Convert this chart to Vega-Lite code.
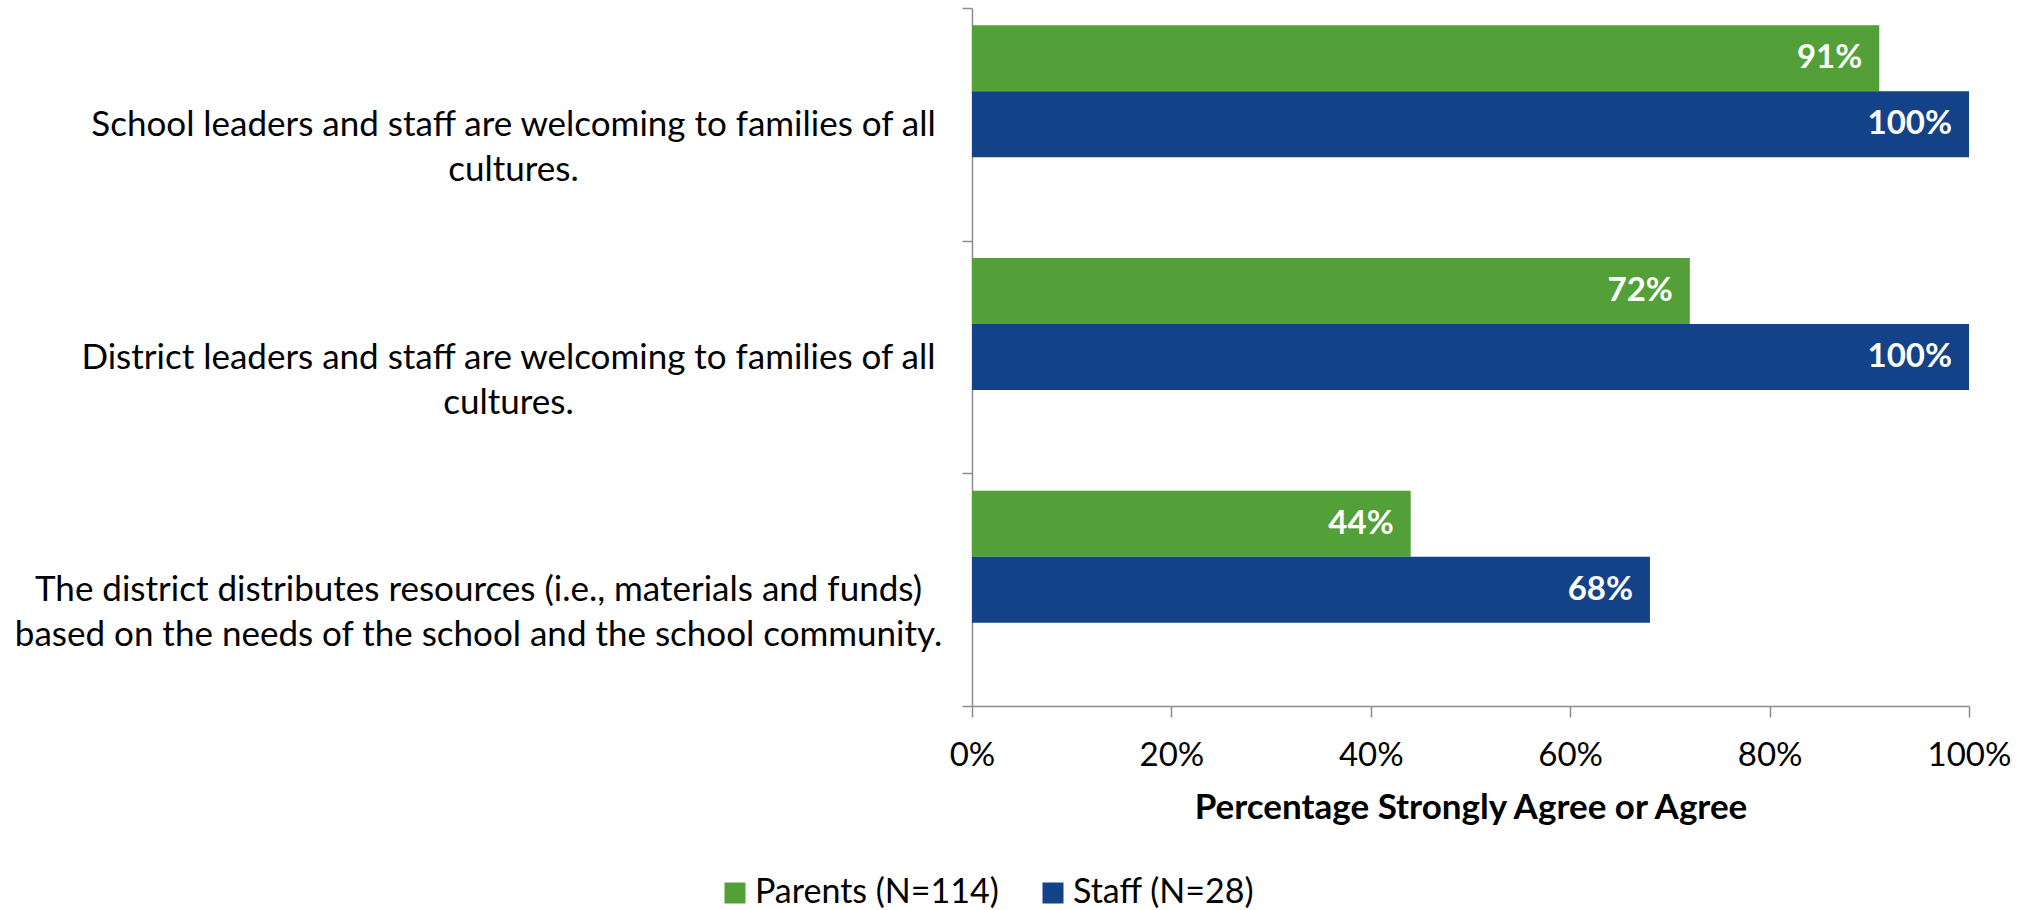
{
  "$schema": "https://vega.github.io/schema/vega-lite/v6.json",
  "width": 997,
  "height": 698,
  "autosize": {"type": "none"},
  "padding": {"left": 972, "top": 8, "right": 59, "bottom": 204},
  "background": "white",
  "config": {"view": {"stroke": null}, "font": "Lato"},
  "data": {
    "values": [
      {"statement": "School leaders and staff are welcoming to families of all cultures.", "group": "Parents (N=114)", "value": 0.91},
      {"statement": "School leaders and staff are welcoming to families of all cultures.", "group": "Staff (N=28)", "value": 1.0},
      {"statement": "District leaders and staff are welcoming to families of all cultures.", "group": "Parents (N=114)", "value": 0.72},
      {"statement": "District leaders and staff are welcoming to families of all cultures.", "group": "Staff (N=28)", "value": 1.0},
      {"statement": "The district distributes resources (i.e., materials and funds) based on the needs of the school and the school community.", "group": "Parents (N=114)", "value": 0.44},
      {"statement": "The district distributes resources (i.e., materials and funds) based on the needs of the school and the school community.", "group": "Staff (N=28)", "value": 0.68}
    ]
  },
  "encoding": {
    "y": {
      "field": "statement",
      "type": "nominal",
      "sort": null,
      "scale": {"paddingInner": 0, "paddingOuter": 0},
      "axis": {
        "title": null,
        "tickBand": "extent",
        "tickSize": 10,
        "tickColor": "#8c8c8c",
        "tickWidth": 1.5,
        "domainColor": "#8c8c8c",
        "domainWidth": 1.5,
        "labelFont": "Lato",
        "labelFontSize": 35,
        "labelColor": "black",
        "labelLimit": 3000,
        "labelAlign": "center",
        "labelBaseline": "middle",
        "labelLineHeight": 45,
        "labelExpr": "indexof('' + datum.value, 'School') == 0 ? ['School leaders and staff are welcoming to families of all', 'cultures.'] : indexof('' + datum.value, 'District') == 0 ? ['District leaders and staff are welcoming to families of all', 'cultures.'] : indexof('' + datum.value, 'The district') == 0 ? ['The district distributes resources (i.e., materials and funds)', 'based on the needs of the school and the school community.'] : ''",
        "labelPadding": {
          "condition": [
            {"test": "indexof('' + datum.value, 'District') == 0", "value": 454},
            {"test": "indexof('' + datum.value, 'The district') == 0", "value": 484}
          ],
          "value": 449
        }
      }
    },
    "yOffset": {
      "field": "group",
      "type": "nominal",
      "scale": {"domain": ["Parents (N=114)", "Staff (N=28)", "_gap"], "paddingInner": 0, "paddingOuter": 0.2626}
    },
    "x": {
      "field": "value",
      "type": "quantitative",
      "scale": {"domain": [0, 1]},
      "axis": {
        "format": ".0%",
        "values": [0, 0.2, 0.4, 0.6, 0.8, 1],
        "grid": false,
        "tickSize": 11,
        "tickColor": "#8c8c8c",
        "tickWidth": 1.5,
        "domainColor": "#8c8c8c",
        "domainWidth": 1.5,
        "labelFont": "Lato",
        "labelFontSize": 33,
        "labelColor": "black",
        "labelPadding": 22,
        "labelFlush": false,
        "labelOverlap": false,
        "title": "Percentage Strongly Agree or Agree",
        "titleFont": "Lato",
        "titleFontSize": 35,
        "titleFontWeight": "bold",
        "titleColor": "black",
        "titlePadding": 18
      }
    }
  },
  "layer": [
    {
      "mark": {"type": "bar"},
      "encoding": {
        "color": {
          "field": "group",
          "type": "nominal",
          "scale": {"domain": ["Parents (N=114)", "Staff (N=28)"], "range": ["#52A037", "#134289"]},
          "legend": {
            "title": null,
            "orient": "none",
            "legendX": -254,
            "legendY": 868,
            "direction": "horizontal",
            "symbolType": "square",
            "symbolSize": 441,
            "symbolStrokeWidth": 0,
            "symbolOpacity": 1,
            "labelFont": "Lato",
            "labelFontSize": 34,
            "labelLimit": 1000,
            "labelColor": "black",
            "labelOffset": 3,
            "columnPadding": 37,
            "padding": 0
          }
        }
      }
    },
    {
      "mark": {"type": "text", "align": "right", "baseline": "middle", "dx": -17, "fill": "white", "fontWeight": "bold", "fontSize": 33, "font": "Lato"},
      "encoding": {"text": {"field": "value", "type": "quantitative", "format": ".0%"}}
    }
  ]
}
